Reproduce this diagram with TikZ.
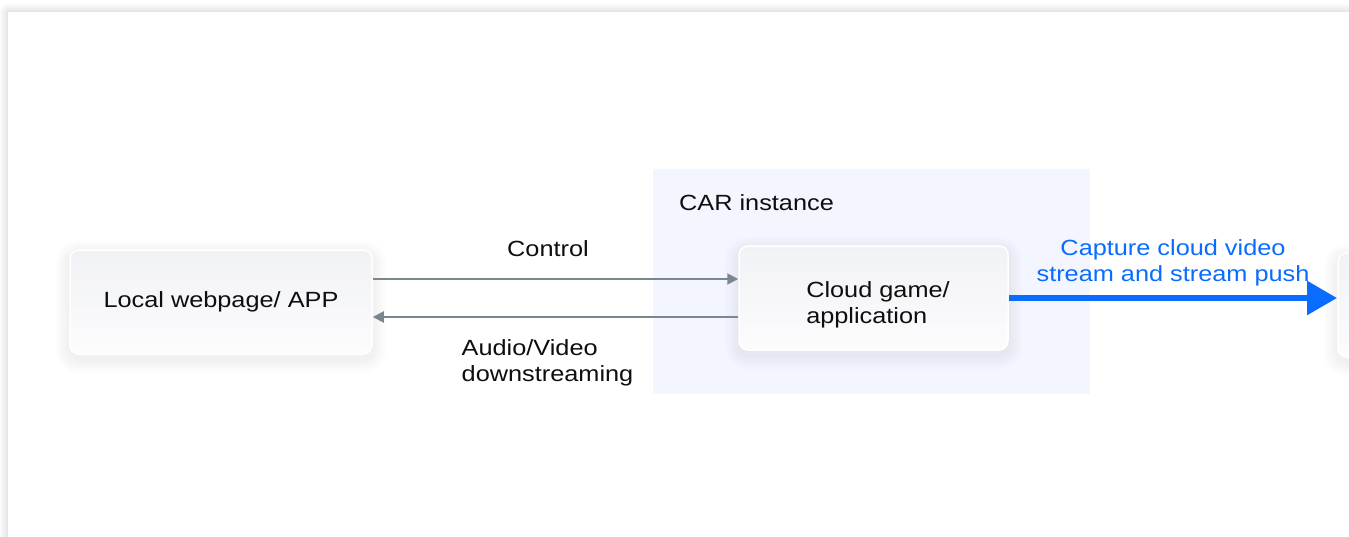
\documentclass[tikz,border=0pt]{standalone}
\usepackage{fontspec}
\setmainfont{Liberation Sans}[FakeStretch=1.15]
\usetikzlibrary{arrows.meta,shadows.blur}

\definecolor{inktext}{HTML}{0E0E0E}
\definecolor{boxtop}{HTML}{F1F2F5}
\definecolor{boxbot}{HTML}{FCFCFD}
\definecolor{carfill}{HTML}{F3F6FE}
\definecolor{linkgray}{HTML}{7B868D}
\definecolor{pushblue}{HTML}{0A6CFF}
\definecolor{shadowtint}{HTML}{3A4A70}

\pgfdeclarelayer{bglayer}
\pgfdeclarelayer{shadelayer}
\pgfsetlayers{bglayer,shadelayer,main}

\tikzset{
  panel/.style={fill=white, blur shadow={shadow xshift=0pt, shadow yshift=0pt,
      shadow blur radius=9pt, shadow blur steps=12, shadow opacity=22}},
  card/.style={rectangle, rounded corners=9pt, draw=white, line width=1.5pt,
      top color=boxtop, bottom color=boxbot, text=inktext,
      font=\fontsize{22}{26}\selectfont, inner sep=0pt},
  region/.style={rectangle, fill=carfill, draw=none, inner sep=0pt},
  label/.style={text=inktext, font=\fontsize{22}{26}\selectfont, inner sep=0pt},
  bluelabel/.style={text=pushblue, font=\fontsize{22}{26}\selectfont, inner sep=0pt},
  link/.style={draw=linkgray, line width=2pt, -{Triangle[length=11pt,width=11pt]}},
  push/.style={draw=pushblue, line width=6pt, -{Triangle[length=30pt,width=33pt]}},
}

% soft drop shadow behind a named card
\newcommand{\cardshade}[1]{%
  \foreach \i in {1,...,14}{%
    \fill[shadowtint, opacity=0.0045, rounded corners={9pt+\i pt}]
      ([shift={(-\i,-\i+5)}]#1.north west) rectangle ([shift={(\i,\i+5)}]#1.south east);
  }}

\begin{document}
\begin{tikzpicture}[x=1pt, y=-1pt]
  \clip (0,0) rectangle (1349,536);

  % cards
  \node[card, minimum width=302pt, minimum height=104pt] (local) at (221,302)
    {Local webpage/ APP};
  \node[card, minimum width=269pt, minimum height=104pt] (cloud) at (873.5,298) {};
  \node[label, align=left] (cloudtext) at (878,305) {Cloud game/\\application};
  \node[card, minimum width=302pt, minimum height=104pt] (next) at (1489,305) {};

  \begin{pgfonlayer}{bglayer}
    % page panel
    \path[panel] (8,12) rectangle (1420,620);
    % CAR instance area
    \node[region, minimum width=437pt, minimum height=225pt] (car) at (871.5,281) {};
  \end{pgfonlayer}
  \begin{pgfonlayer}{shadelayer}
    \cardshade{local}
    \cardshade{cloud}
    \cardshade{next}
  \end{pgfonlayer}

  \node[label, anchor=west] (cartitle) at (679,203) {CAR instance};

  % links between the local client and the cloud
  \draw[link] ([yshift=23pt]local.east) -- ([yshift=19pt]cloud.west);
  \draw[link] ([yshift=-19pt]cloud.west) -- ([yshift=-15pt]local.east);
  \node[label] (ctl) at (548,249) {Control};
  \node[label, align=left] (av) at (547.5,363) {Audio/Video\\downstreaming};

  % stream push
  \coordinate (pushend) at (1337,298);
  \draw[push] (cloud.east) -- (pushend);
  \node[bluelabel, align=center] (pushlbl) at (1173,263)
    {Capture cloud video\\stream and stream push};
\end{tikzpicture}
\end{document}
